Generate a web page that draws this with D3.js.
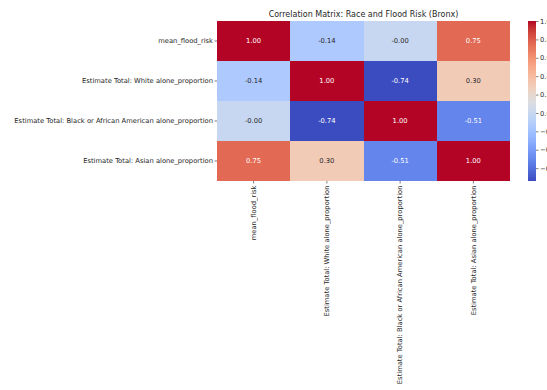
<!DOCTYPE html>
<html>
<head>
<meta charset="utf-8">
<script src="https://cdn.jsdelivr.net/npm/d3@7"></script>
<style>
  html, body { margin: 0; padding: 0; background: #fff; overflow: hidden; }
  svg { display: block; font-family: "DejaVu Sans", sans-serif; }
</style>
</head>
<body>
<svg id="chart" width="547" height="390"></svg>
<script>
// Variables in the correlation matrix (rows and columns share the order)
const variables = [
  "mean_flood_risk",
  "Estimate Total: White alone_proportion",
  "Estimate Total: Black or African American alone_proportion",
  "Estimate Total: Asian alone_proportion"
];

// Correlation coefficients, one array per row
const rowFlood = [1.00, -0.14, -0.004, 0.75];
const rowWhite = [-0.14, 1.00, -0.74, 0.30];
const rowBlack = [-0.004, -0.74, 1.00, -0.51];
const rowAsian = [0.75, 0.30, -0.51, 1.00];
const matrix = [rowFlood, rowWhite, rowBlack, rowAsian];

// Colorbar tick values
const colorbarTicks = [1.0, 0.8, 0.6, 0.4, 0.2, 0.0, -0.2, -0.4, -0.6];

const title = "Correlation Matrix: Race and Flood Risk (Bronx)";

// Moreland "cool-warm" diverging colormap anchors
const coolwarmAnchors = [
  [59,76,192],[68,90,204],[77,104,215],[87,117,225],[98,130,234],[108,142,241],
  [119,154,247],[130,165,251],[141,176,254],[152,185,255],[163,194,255],[174,201,253],
  [184,208,249],[194,213,244],[204,217,238],[213,219,230],[221,221,221],[229,216,209],
  [236,211,197],[241,204,185],[245,196,173],[247,187,160],[247,177,148],[247,166,135],
  [244,154,123],[241,141,111],[236,127,99],[229,112,88],[222,96,77],[213,80,66],
  [203,62,56],[192,40,47],[180,4,38]
].map(c => d3.rgb(c[0], c[1], c[2]).toString());
const coolwarm = d3.piecewise(d3.interpolateRgb, coolwarmAnchors);

const allValues = matrix.flat();
const vmin = d3.min(allValues);
const vmax = d3.max(allValues);
const color = d3.scaleSequential(coolwarm).domain([vmin, vmax]);

const svg = d3.select("#chart");
const fontSize = 6.75;

const plotLeft = 217, plotRight = 510, plotTop = 21, plotBottom = 181;
const x = d3.scaleBand().domain(variables).range([plotLeft, plotRight]).padding(0);
const y = d3.scaleBand().domain(variables).range([plotTop, plotBottom]).padding(0);

const cells = [];
matrix.forEach((row, i) => row.forEach((v, j) => cells.push({ r: variables[i], c: variables[j], v })));

// Heatmap cells
svg.append("g").selectAll("rect").data(cells).join("rect")
  .attr("x", d => x(d.c))
  .attr("y", d => y(d.r))
  .attr("width", x.bandwidth())
  .attr("height", y.bandwidth())
  .attr("fill", d => color(d.v))
  .attr("shape-rendering", "crispEdges");

// Annotation text colour follows cell luminance
function luminance(c) {
  const rgb = d3.rgb(c);
  const f = ch => { ch /= 255; return ch <= 0.03928 ? ch / 12.92 : Math.pow((ch + 0.055) / 1.055, 2.4); };
  return 0.2126 * f(rgb.r) + 0.7152 * f(rgb.g) + 0.0722 * f(rgb.b);
}

svg.append("g").selectAll("text").data(cells).join("text")
  .attr("x", d => x(d.c) + x.bandwidth() / 2)
  .attr("y", d => y(d.r) + y.bandwidth() / 2)
  .attr("text-anchor", "middle")
  .attr("dominant-baseline", "central")
  .attr("font-size", fontSize)
  .attr("fill", d => luminance(color(d.v)) < 0.408 ? "#ffffff" : "#262626")
  .text(d => d.v.toFixed(2));

// Axes
const axisLeft = svg.append("g")
  .attr("transform", `translate(${plotLeft},0)`)
  .call(d3.axisLeft(y).tickSize(2.5).tickPadding(1.5));
const axisBottom = svg.append("g")
  .attr("transform", `translate(0,${plotBottom})`)
  .call(d3.axisBottom(x).tickSize(2.5).tickPadding(1.5));

[axisLeft, axisBottom].forEach(g => {
  g.select(".domain").remove();
  g.selectAll(".tick line").attr("stroke", "#262626").attr("stroke-width", 0.6);
  g.selectAll(".tick text").attr("font-size", fontSize).attr("fill", "#262626")
    .attr("font-family", "DejaVu Sans, sans-serif");
});

axisBottom.selectAll(".tick text")
  .attr("transform", "rotate(-90)")
  .attr("text-anchor", "end")
  .attr("x", -4.5)
  .attr("y", 0)
  .attr("dy", "0.32em");

// Title
svg.append("text")
  .attr("x", (plotLeft + plotRight) / 2)
  .attr("y", 16.5)
  .attr("text-anchor", "middle")
  .attr("font-size", 8)
  .attr("fill", "#262626")
  .text(title);

// Colorbar
const cbX = 528, cbW = 8;
const cbScale = d3.scaleLinear().domain([vmin, vmax]).range([plotBottom, plotTop]);
const defs = svg.append("defs");
const grad = defs.append("linearGradient")
  .attr("id", "cbgrad")
  .attr("x1", 0).attr("y1", 1).attr("x2", 0).attr("y2", 0);
d3.range(0, 1.0001, 0.02).forEach(t => {
  grad.append("stop").attr("offset", t).attr("stop-color", coolwarm(t));
});
svg.append("rect")
  .attr("x", cbX).attr("y", plotTop)
  .attr("width", cbW).attr("height", plotBottom - plotTop)
  .attr("fill", "url(#cbgrad)");

const cbAxis = svg.append("g")
  .attr("transform", `translate(${cbX + cbW},0)`)
  .call(d3.axisRight(cbScale).tickValues(colorbarTicks).tickSize(2.5).tickPadding(1.5)
    .tickFormat(d3.format(".1f")));
cbAxis.select(".domain").remove();
cbAxis.selectAll(".tick line").attr("stroke", "#262626").attr("stroke-width", 0.6);
cbAxis.selectAll(".tick text").attr("font-size", fontSize).attr("fill", "#262626")
  .attr("font-family", "DejaVu Sans, sans-serif");
</script>
</body>
</html>
